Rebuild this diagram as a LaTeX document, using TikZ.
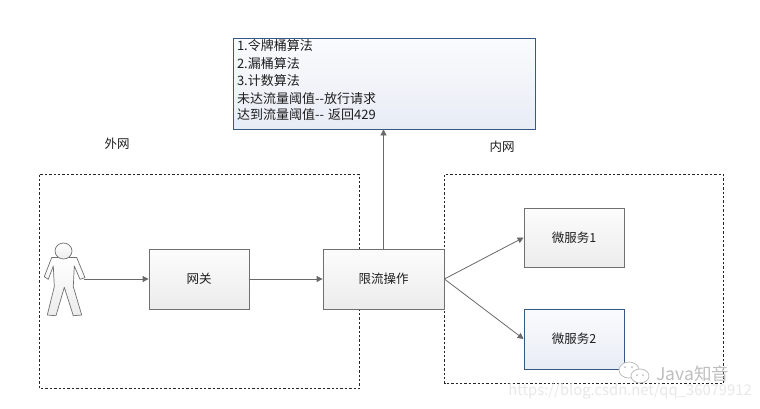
\documentclass[tikz,border=0pt]{standalone}
\usepackage{fontspec}
\setmainfont{Noto Sans CJK SC}
\usetikzlibrary{arrows.meta,positioning,calc,shadows}
\definecolor{boxGrayRule}{RGB}{112, 112, 112}
\definecolor{boxGrayTop}{RGB}{252, 252, 252}
\definecolor{boxGrayBottom}{RGB}{236, 236, 236}
\definecolor{boxBlueRule}{RGB}{56, 88, 132}
\definecolor{boxBlueTop}{RGB}{250, 251, 253}
\definecolor{boxBlueBottom}{RGB}{232, 236, 245}
\definecolor{lineGray}{RGB}{105, 105, 105}
\definecolor{inkText}{RGB}{30, 30, 30}
\definecolor{markGray}{RGB}{190, 190, 190}
\definecolor{markLight}{RGB}{232, 232, 232}
\tikzset{
    x=1pt, y=-1pt,
    grayBox/.style={draw=boxGrayRule, top color=boxGrayTop, bottom color=boxGrayBottom, line width=0.8pt,
        minimum width=100pt, minimum height=60pt, inner sep=0pt, text=inkText, font=\fontsize{12.5pt}{15pt}\selectfont,
        drop shadow={shadow xshift=0.8pt, shadow yshift=-0.8pt, opacity=0.2}},
    blueBox/.style={grayBox, draw=boxBlueRule, top color=boxBlueTop, bottom color=boxBlueBottom},
    zoneBox/.style={draw=black!85, line width=0.6pt, dash pattern=on 2.4pt off 2pt},
    flowArrow/.style={draw=lineGray, line width=0.8pt, -{Triangle[length=6pt,width=6pt]}},
    zoneLabel/.style={text=inkText, inner sep=0pt, font=\fontsize{12.5pt}{15pt}\selectfont},
}
\begin{document}
\begin{tikzpicture}
    \useasboundingbox (0,0) rectangle (760,408);
    \fill[white] (0,0) rectangle (760,408);
    % dashed zones
    \draw[zoneBox] (39.5,174.5) rectangle (359.5,388.5);
    \draw[zoneBox] (444.5,174.5) rectangle (723.5,383.5);
    \node[zoneLabel] (outerLabel) at (117,144) {外网};
    \node[zoneLabel] (innerLabel) at (502,147) {内网};
    % boxes
    \node[blueBox, minimum width=302pt, minimum height=91pt, text width=294pt, align=left] (algoBox) at (384,83.5) {%
        \fontsize{13pt}{17.4pt}\selectfont
        1.令牌桶算法\\
        2.漏桶算法\\
        3.计数算法\\
        未达流量阈值{-}{-}放行请求\\[1.5pt]
        达到流量阈值{-}{-} 返回429\rule[-7.5pt]{0pt}{7.5pt}};
    \node[grayBox] (gateway) at (199,279) {网关};
    \node[grayBox, minimum width=121pt] (limiter) at (383.5,279) {限流操作};
    \node[grayBox, minimum height=59pt] (serviceOne) at (574,237.5) {微服务1};
    \node[blueBox] (serviceTwo) at (574,339) {微服务2};
    % person
    \fill[white, draw=boxGrayRule, line width=0.7pt, line join=round, top color=white, bottom color=boxGrayBottom]
        (51.7,257.5) -- (76.7,257.5) -- (85,277.7) -- (80,279.3) -- (74.3,266) -- (73.3,286.7)
        -- (81.7,315) -- (73.3,315.7) -- (64.3,287.3) -- (56,315.7) -- (47.3,315)
        -- (54.3,286.7) -- (53.3,266) -- (48.3,279.3) -- (44.3,276.7) -- cycle;
    \draw[draw=boxGrayRule, line width=0.7pt, top color=white, bottom color=boxGrayBottom] (63.5,251) ellipse (8.5 and 8);
    \coordinate (personHand) at (84,279);
    % connectors
    \draw[flowArrow] (personHand) -- (gateway.west);
    \draw[flowArrow] (gateway.east) -- (limiter.west);
    \draw[flowArrow] (limiter.north) -- (limiter.north |- algoBox.south);
    \draw[flowArrow] (limiter.east) -- (serviceOne.west);
    \draw[flowArrow] (limiter.east) -- (serviceTwo.west);
    % blog marks
    \node[text=markLight, inner sep=0pt, anchor=east, font=\fontsize{14.8pt}{16pt}\selectfont] (blogLink) at (752,391) {https://blog.csdn.net/qq\_36079912};
    \fill[white, draw=markGray, line width=0.8pt] (629,370) ellipse (10 and 8);
    \fill[white, draw=markGray, line width=0.8pt] (640,376) ellipse (9 and 7);
    \fill[markGray] (625,367) circle (1) (632,367) circle (1) (637,375) circle (1) (643,375) circle (1);
    \node[text=markGray, inner sep=0pt, anchor=west, font=\fontsize{17.5pt}{19pt}\selectfont] (javaMark) at (656,374) {Java知音};
\end{tikzpicture}
\end{document}
